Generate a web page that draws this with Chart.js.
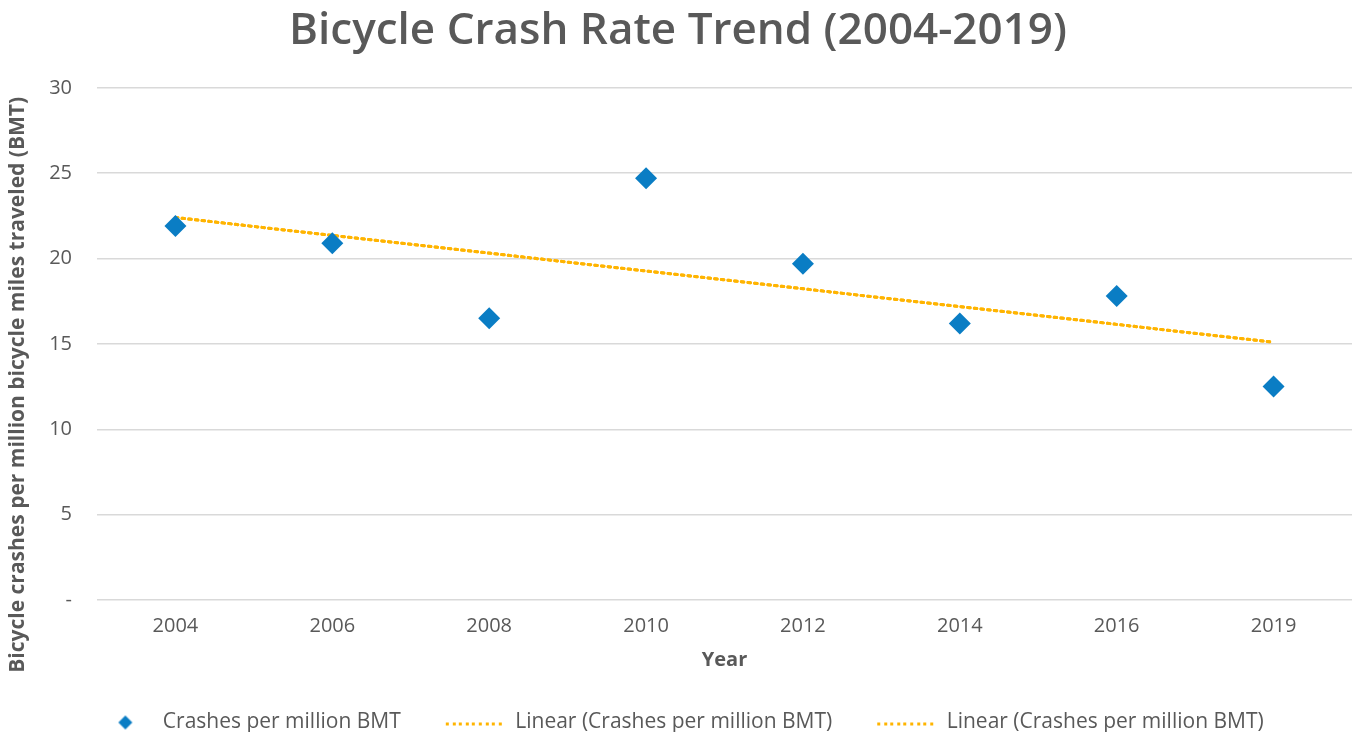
<!DOCTYPE html>
<html>
<head>
<meta charset="utf-8">
<script src="https://cdn.jsdelivr.net/npm/chart.js@4.4.1/dist/chart.umd.min.js"></script>
<style>
  html, body { margin: 0; padding: 0; background: #fff; }
  #wrap { width: 1353px; height: 732px; }
</style>
</head>
<body>
<div id="wrap"><canvas id="chart"></canvas></div>
<script>
// data
const years = ['2004', '2006', '2008', '2010', '2012', '2014', '2016', '2019'];
const crashRates = [21.9, 20.9, 16.5, 24.7, 19.7, 16.2, 17.8, 12.5];
// trend line end points (Excel linear trendline), middle left empty
const trendRates = [22.4, null, null, null, null, null, null, 15.1];
const yTicks = [0, 5, 10, 15, 20, 25, 30];

const textGrey = '#595959';
const blue = '#0A7DC4';
const gold = '#FFB400';
const fontFamily = '"Open Sans", Roboto, sans-serif';

// small legend swatches (diamond and dotted line), same width so text lines up
function makeSwatch(kind) {
    const c = document.createElement('canvas');
    c.width = 60;
    c.height = 16;
    const ctx = c.getContext('2d');
    if (kind === 'diamond') {
        ctx.fillStyle = blue;
        ctx.beginPath();
        ctx.moveTo(33, 1);
        ctx.lineTo(40, 8);
        ctx.lineTo(33, 15);
        ctx.lineTo(26, 8);
        ctx.closePath();
        ctx.fill();
    } else {
        ctx.fillStyle = gold;
        for (let x = 1; x < 60; x += 6.6) {
            ctx.fillRect(Math.round(x), 8, 3, 3);
        }
    }
    return c;
}
const swatches = [makeSwatch('diamond'), makeSwatch('line'), makeSwatch('line')];

const trendStyle = {
    spanGaps: true,
    pointRadius: 0,
    borderColor: gold,
    backgroundColor: gold,
    borderWidth: 3,
    borderDash: [2.5, 4.2],
    borderCapStyle: 'round'
};

new Chart(document.getElementById('chart'), {
    type: 'line',
    data: {
        labels: years,
        datasets: [
            {
                label: 'Crashes per million BMT',
                data: crashRates,
                showLine: false,
                pointStyle: 'rectRot',
                pointRadius: 11,
                pointHoverRadius: 11,
                backgroundColor: blue,
                borderColor: blue,
                borderWidth: 0,
                order: 0
            },
            Object.assign({ label: 'Linear (Crashes per million BMT)', data: trendRates, order: 1 }, trendStyle),
            Object.assign({ label: 'Linear (Crashes per million BMT)', data: trendRates, order: 2 }, trendStyle)
        ]
    },
    options: {
        responsive: true,
        maintainAspectRatio: false,
        animation: false,
        layout: {
            autoPadding: false,
            padding: { left: 4, right: 1, top: 0, bottom: -11 }
        },
        plugins: {
            title: {
                display: true,
                text: 'Bicycle Crash Rate Trend (2004-2019)',
                color: textGrey,
                font: { family: fontFamily, size: 44, weight: '600' },
                padding: { top: 5, bottom: 30 }
            },
            legend: {
                position: 'bottom',
                labels: {
                    usePointStyle: true,
                    pointStyleWidth: 60,
                    boxHeight: 12,
                    padding: 44,
                    color: textGrey,
                    font: { family: fontFamily, size: 21 },
                    generateLabels: (chart) => {
                        const items = Chart.defaults.plugins.legend.labels.generateLabels(chart);
                        items.forEach((item, i) => {
                            item.pointStyle = swatches[i];
                        });
                        return items;
                    }
                }
            },
            tooltip: { enabled: false }
        },
        scales: {
            x: {
                offset: true,
                afterFit: (axis) => {
                    axis.height = 68;
                    axis.paddingLeft = 0;
                    axis.paddingRight = 0;
                },
                grid: { display: false, drawTicks: false },
                border: { display: false },
                ticks: {
                    color: textGrey,
                    font: { family: fontFamily, size: 20 },
                    padding: 14
                },
                title: {
                    display: true,
                    text: 'Year',
                    color: textGrey,
                    font: { family: fontFamily, size: 20, weight: 'bold' },
                    padding: { top: 0, bottom: -4 }
                }
            },
            y: {
                min: 0,
                max: 30,
                afterBuildTicks: (axis) => {
                    axis.ticks = yTicks.map(v => ({ value: v }));
                },
                afterFit: (axis) => {
                    axis.width = 93;
                },
                grid: {
                    color: '#d9d9d9',
                    lineWidth: 1.5,
                    drawTicks: false
                },
                border: { display: false },
                ticks: {
                    color: textGrey,
                    font: { family: fontFamily, size: 20 },
                    padding: 25,
                    callback: (value) => value === 0 ? '-' : value
                },
                title: {
                    display: true,
                    // trailing spaces push the visible text a little lower, as in the original
                    text: 'Bicycle crashes per million bicycle miles traveled (BMT)               ',
                    color: textGrey,
                    font: { family: fontFamily, size: 21, weight: 'bold' },
                    padding: { top: 1, bottom: 0 }
                }
            }
        }
    }
});
</script>
</body>
</html>
